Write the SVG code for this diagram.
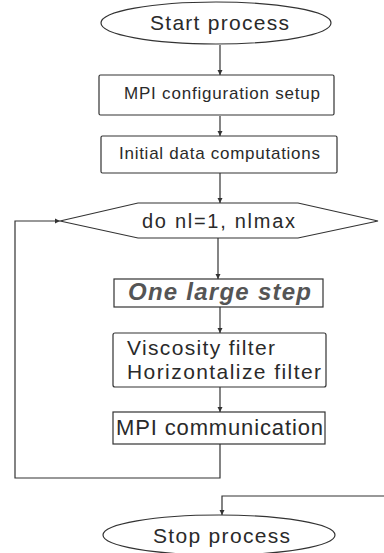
<svg xmlns="http://www.w3.org/2000/svg" width="384" height="553" viewBox="0 0 384 553">
  <style>
    .shape { fill: #ffffff; stroke: #333333; stroke-width: 1.2; }
    .edge { fill: none; stroke: #333333; stroke-width: 1.2; }
    .label { font-family: "Liberation Sans", Arial, sans-serif; fill: #2a2a2a; }
    .step { font-family: "Liberation Sans", Arial, sans-serif; font-weight: bold; font-style: italic; fill: #555555; }
  </style>
  <defs>
    <marker id="arrow" markerWidth="6" markerHeight="6" refX="5" refY="3" orient="auto" markerUnits="userSpaceOnUse">
      <path d="M0,0.5 L5,3 L0,5.5 Z" fill="#333333"/>
    </marker>
  </defs>
  <rect width="384" height="553" fill="#ffffff"/>

  <g id="connectors">
    <line class="edge" x1="220" y1="45" x2="220" y2="75" marker-end="url(#arrow)"/>
    <line class="edge" x1="220" y1="116" x2="220" y2="136" marker-end="url(#arrow)"/>
    <line class="edge" x1="220" y1="173" x2="220" y2="203" marker-end="url(#arrow)"/>
    <line class="edge" x1="218" y1="238" x2="218" y2="279" marker-end="url(#arrow)"/>
    <line class="edge" x1="220" y1="307" x2="220" y2="333" marker-end="url(#arrow)"/>
    <line class="edge" x1="220" y1="387" x2="220" y2="412" marker-end="url(#arrow)"/>
    <!-- loop back to the do-loop head -->
    <polyline class="edge" points="220,444 220,478 15,478 15,221 60,221" marker-end="url(#arrow)"/>
    <!-- loop exit into the stop terminal -->
    <polyline class="edge" points="385,496 222,496 222,515" marker-end="url(#arrow)"/>
  </g>

  <g id="start">
    <ellipse class="shape" cx="216" cy="23" rx="115" ry="21"/>
    <text class="label" x="150" y="30" font-size="21" textLength="139" lengthAdjust="spacing">Start process</text>
  </g>

  <g id="mpi-setup">
    <rect class="shape" x="99" y="75" width="235" height="40" rx="1.5"/>
    <text class="label" x="124" y="99" font-size="17" textLength="196" lengthAdjust="spacing">MPI configuration setup</text>
  </g>

  <g id="init-data">
    <rect class="shape" x="101" y="136" width="236" height="37" rx="1.5"/>
    <text class="label" x="119" y="159" font-size="17" textLength="201" lengthAdjust="spacing">Initial data computations</text>
  </g>

  <g id="loop-head">
    <polygon class="shape" points="60,221 138,203 298,203 378,221 298,238 138,238"/>
    <text class="label" x="142" y="228" font-size="20" textLength="153" lengthAdjust="spacing">do nl=1, nlmax</text>
  </g>

  <g id="large-step">
    <rect class="shape" x="114" y="279" width="209" height="28"/>
    <text class="step" x="128" y="300" font-size="24" textLength="183" lengthAdjust="spacing">One large step</text>
  </g>

  <g id="filters">
    <rect class="shape" x="113" y="333" width="213" height="54" rx="2"/>
    <text class="label" x="127" y="355" font-size="21" textLength="148" lengthAdjust="spacing">Viscosity filter</text>
    <text class="label" x="127" y="379" font-size="21" textLength="194" lengthAdjust="spacing">Horizontalize filter</text>
  </g>

  <g id="mpi-comm">
    <rect class="shape" x="113" y="412" width="212" height="32"/>
    <text class="label" x="116" y="435" font-size="22" textLength="207" lengthAdjust="spacing">MPI communication</text>
  </g>

  <g id="stop">
    <ellipse class="shape" cx="219" cy="535" rx="116" ry="20"/>
    <text class="label" x="153" y="543" font-size="21" textLength="137" lengthAdjust="spacing">Stop process</text>
  </g>
</svg>
